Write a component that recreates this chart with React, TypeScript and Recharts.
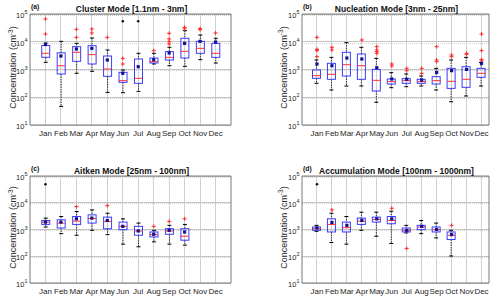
import React from 'react';
import { ComposedChart, Bar, Scatter, XAxis, YAxis, CartesianGrid } from 'recharts';

const FONT = '"Liberation Sans", Arial, Helvetica, sans-serif';
const BOX = '#3b3bff';
const MED = '#ff3030';
const MEAN = '#12128f';
const OUT = '#ff2a2a';
const FRAME = '#7a7a7a';

const months = ['Jan', 'Feb', 'Mar', 'Apr', 'May', 'Jun', 'Jul', 'Aug', 'Sep', 'Oct', 'Nov', 'Dec'];
const monthNums = [1, 2, 3, 4, 5, 6, 7, 8, 9, 10, 11, 12];
const decades = [10, 100, 1000, 10000, 100000];

// (a) Cluster mode
const aLow = [1810, 47, 728, 859, 150, 146, 163, 1580, 1370, 1300, 2260, 1710];
const aQ1 = [2750, 690, 1970, 1580, 568, 345, 318, 1710, 2200, 2590, 3830, 2740];
const aMed = [3830, 1370, 4160, 3430, 1040, 396, 481, 1910, 2740, 4520, 5790, 3830];
const aQ3 = [7330, 4000, 6650, 7230, 3060, 791, 2390, 2590, 4400, 13300, 10350, 8770];
const aHigh = [9010, 10350, 8770, 13650, 5050, 959, 3830, 3830, 6310, 25100, 17500, 13300];
const aMean = [7960, 3060, 5480, 5790, 2200, 728, 1260, 2260, 3940, 8770, 10350, 9770];
const aOut = [[66000, 19000], [], [28000, 14400], [28800, 20700], [14400], [2520, 1580], [], [4780], [20100, 12600, 10100, 8300], [33100, 29500], [29500, 27500], [20700]];
const aFar = [null, null, null, null, null, 54500, 54500, null, null, null, null, null];

// (b) Nucleation mode
const bLow = [318, 182, 254, 254, 66, 221, 240, 254, 182, 69, 111, 254];
const bQ1 = [481, 443, 583, 443, 168, 300, 318, 318, 300, 209, 228, 522];
const bMed = [600, 670, 1490, 1370, 407, 365, 396, 365, 396, 375, 443, 728];
const bQ3 = [960, 1670, 4160, 3620, 1010, 455, 468, 443, 552, 1100, 1260, 1100];
const bHigh = [2200, 2740, 9270, 6300, 2520, 769, 689, 583, 1100, 2200, 2740, 1800];
const bMean = [1580, 1370, 2590, 2390, 1160, 455, 443, 419, 791, 908, 1010, 1670];
const bOut = [[14400, 5330, 4780, 2900], [6300, 5050], [], [11560], [6650, 5050, 4400, 3830], [1580, 1340], [1100, 908], [1100, 728], [6650, 2200, 1910], [3330, 2900], [3830, 3520], [19000, 4780, 2300, 2050]];
const bFar = [null, null, null, null, null, null, null, null, null, null, null, null];

// (c) Aitken mode
const cLow = [1240, 700, 610, 930, 644, 283, 226, 345, 283, 260, null, null];
const cQ1 = [1550, 1140, 1550, 1740, 1070, 986, 610, 528, 664, 398, null, null];
const cMed = [1890, 1740, 2060, 2580, 2000, 1310, 881, 644, 881, 560, null, null];
const cQ3 = [2180, 2310, 3060, 3530, 2900, 1890, 1310, 809, 1070, 1070, null, null];
const cHigh = [2660, 3060, 4690, 5400, 4060, 2510, 1740, 931, 1430, 1550, null, null];
const cMean = [1890, 1890, 2510, 2660, 2180, 1310, 881, 664, 931, 809, null, null];
const cOut = [[], [], [7160], [], [7800], [], [], [1310], [2000], [2510], [], []];
const cFar = [49200, null, null, null, null, null, null, null, null, null, null, null];

// (d) Accumulation mode
const dLow = [855, 327, 283, 931, 560, 300, 743, 700, 485, 102, null, null];
const dQ1 = [931, 809, 809, 1550, 1890, 1640, 809, 986, 809, 422, null, null];
const dMed = [1070, 1550, 1170, 2060, 2370, 2180, 931, 1240, 986, 610, null, null];
const dQ3 = [1240, 2510, 1890, 2660, 2900, 3060, 1140, 1430, 1240, 809, null, null];
const dHigh = [1430, 4060, 3060, 4430, 4430, 4820, 1430, 2180, 1740, 931, null, null];
const dMean = [1140, 1840, 1430, 2180, 2510, 2510, 931, 1310, 1010, 644, null, null];
const dOut = [[], [5400], [], [], [], [6220], [196], [], [], [1430], [], []];
const dFar = [49200, null, null, null, null, null, null, null, null, null, null, null];

const minorGrid: number[] = [];
decades.slice(0, 4).forEach((d) => {
  for (let k = 2; k <= 9; k++) minorGrid.push(d * k);
});

const rowsOf = (low, q1, med, q3, high, mean, out, far) =>
  months.map((m, i) => {
    const row: any = { x: i + 1, month: m, med: med[i], mean: mean[i], far: far[i] };
    if (q1[i] != null) {
      row.lower = [low[i], q1[i]];
      row.box = [q1[i], q3[i]];
      row.upper = [q3[i], high[i]];
    }
    out[i].forEach((v, k) => {
      row['o' + k] = v;
    });
    return row;
  });

const ok = (...v: any[]) => v.every((n) => typeof n === 'number' && isFinite(n));

const BoxShape = (p: any) => {
  if (!p.payload || !p.payload.box || !ok(p.x, p.y, p.height)) return <g />;
  return <rect x={p.x} y={p.y} width={p.width} height={p.height} fill="none" stroke={BOX} strokeWidth={1} />;
};

const WhiskerShape = (top: boolean) => (p: any) => {
  if (!p.payload || !p.payload.box || !ok(p.x, p.y, p.height)) return <g />;
  const cx = p.x + p.width / 2;
  const capY = top ? p.y : p.y + p.height;
  return (
    <g>
      <line x1={cx} x2={cx} y1={p.y} y2={p.y + p.height} stroke="#000" strokeWidth={0.8} strokeDasharray="1.5 1" />
      <line x1={cx - 2} x2={cx + 2} y1={capY} y2={capY} stroke="#000" strokeWidth={1} />
    </g>
  );
};

const MedianShape = (p: any) =>
  ok(p.cx, p.cy) ? <line x1={p.cx - 4} x2={p.cx + 4} y1={p.cy} y2={p.cy} stroke={MED} strokeWidth={1} /> : <g />;

const MeanShape = (p: any) =>
  ok(p.cx, p.cy) ? <rect x={p.cx - 1.6} y={p.cy - 1.6} width={3.2} height={3.2} fill={MEAN} /> : <g />;

const PlusShape = (p: any) =>
  ok(p.cx, p.cy) ? (
    <g stroke={OUT} strokeWidth={1}>
      <line x1={p.cx - 2} x2={p.cx + 2} y1={p.cy} y2={p.cy} />
      <line x1={p.cx} x2={p.cx} y1={p.cy - 2} y2={p.cy + 2} />
    </g>
  ) : (
    <g />
  );

const FarShape = (p: any) => (ok(p.cx, p.cy) ? <circle cx={p.cx} cy={p.cy} r={1.3} fill="#111" /> : <g />);

const PowTick = (p: any) => {
  const exp = Math.round(Math.log10(p.payload.value));
  return (
    <text x={p.x} y={p.y + 4} textAnchor="end" fontSize={7.5} fill="#262626" fontFamily={FONT}>
      10
      <tspan dy={-4} fontSize={5.5}>
        {exp}
      </tspan>
    </text>
  );
};

const panels = [
  { id: 'a', left: 0, top: 0, mTop: 14, mRight: 19, yW: 30, xH: 25, xMax: 13, title: 'Cluster Mode [1.1nm - 3nm]', rows: rowsOf(aLow, aQ1, aMed, aQ3, aHigh, aMean, aOut, aFar) },
  { id: 'b', left: 250, top: 0, mTop: 14, mRight: 11, yW: 52, xH: 25, xMax: 12.5, title: 'Nucleation Mode [3nm - 25nm]', rows: rowsOf(bLow, bQ1, bMed, bQ3, bHigh, bMean, bOut, bFar) },
  { id: 'c', left: 0, top: 150, mTop: 26, mRight: 19, yW: 30, xH: 17, xMax: 13, title: 'Aitken Mode [25nm - 100nm]', rows: rowsOf(cLow, cQ1, cMed, cQ3, cHigh, cMean, cOut, cFar) },
  { id: 'd', left: 250, top: 150, mTop: 26, mRight: 11, yW: 52, xH: 17, xMax: 12.5, title: 'Accumulation Mode [100nm - 1000nm]', rows: rowsOf(dLow, dQ1, dMed, dQ3, dHigh, dMean, dOut, dFar) },
];

const W = 250;
const H = 150;

function Panel({ p }: { p: any }) {
  return (
    <div style={{ position: 'absolute', left: p.left, top: p.top, width: W, height: H }}>
      <ComposedChart width={W} height={H} data={p.rows} margin={{ top: p.mTop, right: p.mRight, bottom: 0, left: 0 }} barSize={8} barGap={-8}>
        <CartesianGrid vertical={false} horizontalValues={minorGrid} stroke="#d2d2d2" strokeWidth={1} strokeDasharray="1 1" shapeRendering="crispEdges" />
        <CartesianGrid horizontal={false} verticalValues={monthNums} stroke="#cfcfcf" strokeWidth={1} shapeRendering="crispEdges" />
        <CartesianGrid vertical={false} horizontalValues={decades} stroke="#c4c4c4" strokeWidth={1} shapeRendering="crispEdges" />
        <CartesianGrid horizontalValues={[100000]} verticalValues={[p.xMax]} stroke={FRAME} strokeWidth={1} />
        <XAxis
          type="number"
          dataKey="x"
          domain={[0, p.xMax]}
          ticks={monthNums}
          interval={0}
          allowDataOverflow
          tickFormatter={(v) => months[v - 1]}
          height={p.xH}
          tickSize={0}
          tickMargin={5}
          axisLine={{ stroke: FRAME }}
          tick={{ fontSize: 8, fill: '#262626', fontFamily: FONT }}
        />
        <YAxis
          type="number"
          scale="log"
          domain={[10, 100000]}
          ticks={decades}
          allowDataOverflow
          width={p.yW}
          tickSize={0}
          tickMargin={2.5}
          axisLine={{ stroke: FRAME }}
          tick={<PowTick />}
        />
        <Bar dataKey="lower" shape={WhiskerShape(false)} isAnimationActive={false} />
        <Bar dataKey="upper" shape={WhiskerShape(true)} isAnimationActive={false} />
        <Bar dataKey="box" shape={BoxShape} isAnimationActive={false} />
        <Scatter dataKey="med" shape={MedianShape} isAnimationActive={false} />
        <Scatter dataKey="o0" shape={PlusShape} isAnimationActive={false} />
        <Scatter dataKey="o1" shape={PlusShape} isAnimationActive={false} />
        <Scatter dataKey="o2" shape={PlusShape} isAnimationActive={false} />
        <Scatter dataKey="o3" shape={PlusShape} isAnimationActive={false} />
        <Scatter dataKey="far" shape={FarShape} isAnimationActive={false} />
        <Scatter dataKey="mean" shape={MeanShape} isAnimationActive={false} />
      </ComposedChart>
    </div>
  );
}

export default function App() {
  return (
    <div style={{ position: 'absolute', left: 0, top: 0, width: 500, height: 300, background: '#fff', fontFamily: FONT }}>
      {panels.map((p) => (
        <Panel key={p.id} p={p} />
      ))}
      <svg width={500} height={300} style={{ position: 'absolute', left: 0, top: 0, pointerEvents: 'none' }} fontFamily={FONT}>
        {panels.map((p) => {
          const plotL = p.left + p.yW;
          const plotR = p.left + W - p.mRight;
          const plotT = p.top + p.mTop;
          const plotB = p.top + H - p.xH;
          const midY = (plotT + plotB) / 2 - 2;
          const labX = plotL - (p.id === 'a' || p.id === 'c' ? 14 : 15.5);
          return (
            <g key={p.id}>
              <text x={plotL + 1} y={plotT - 5.5} fontSize={6.8} fontWeight="bold" fill="#111">
                ({p.id})
              </text>
              <text x={(plotL + plotR) / 2 + 1} y={plotT - 2.5} fontSize={8.5} fontWeight="bold" fill="#111" textAnchor="middle">
                {p.title}
              </text>
              <text x={labX} y={midY} fontSize={9} fill="#262626" textAnchor="middle" transform={`rotate(-90 ${labX} ${midY})`}>
                Concentration (cm
                <tspan dy={-3.5} fontSize={6.5}>
                  -3
                </tspan>
                <tspan dy={3.5}>)</tspan>
              </text>
            </g>
          );
        })}
      </svg>
    </div>
  );
}
